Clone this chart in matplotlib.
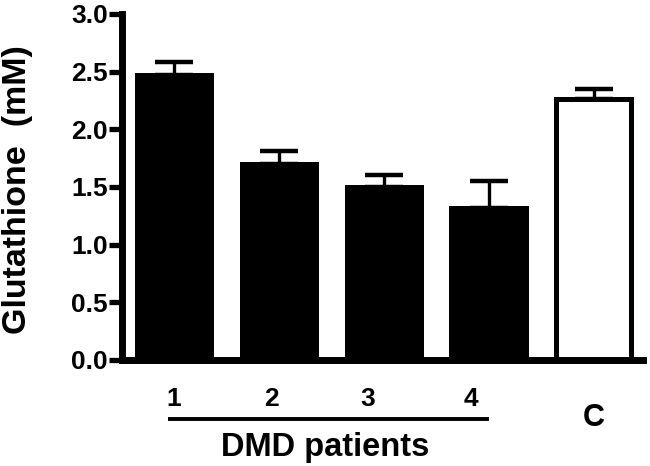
import matplotlib
matplotlib.use('Agg')
import matplotlib.pyplot as plt
import matplotlib.transforms as mtransforms

# 데이터
groups = ['1', '2', '3', '4', 'C']
glutathione = [2.47, 1.70, 1.50, 1.32, 2.26]
sem = [0.11, 0.11, 0.10, 0.23, 0.09]
patient_fill = ['black', 'black', 'black', 'black', 'white']

plt.rcParams['font.family'] = ['Liberation Sans', 'DejaVu Sans']
plt.rcParams['font.weight'] = 'bold'

fig = plt.figure(figsize=(6.5, 4.66), dpi=100)
ax = fig.add_axes([0.187, 0.2275, 0.802, 0.7425])

x = list(range(len(groups)))
ax.bar(x, glutathione, width=0.71, color=patient_fill, edgecolor='black',
       linewidth=3.6, zorder=2)
ax.errorbar(x, glutathione, yerr=[[0] * len(sem), sem], fmt='none',
            ecolor='black', elinewidth=2.4, capsize=13.5, capthick=3.2, zorder=1)

ax.set_xlim(-0.5, 4.47)
ax.set_ylim(0, 3.0)
ax.set_yticks([0, 0.5, 1.0, 1.5, 2.0, 2.5, 3.0])
ax.set_yticklabels([f'{v:.1f}' for v in ax.get_yticks()], fontsize=19, fontweight='bold')
ax.tick_params(axis='y', length=9.5, width=3.8, pad=0.5)
ax.set_xticks([])

for side in ['top', 'right']:
    ax.spines[side].set_visible(False)
for side in ['left', 'bottom']:
    ax.spines[side].set_linewidth(5)

# 그룹 라벨 (막대 아래)
trans = mtransforms.blended_transform_factory(ax.transData, ax.transAxes)
label_x = [0, 0.93, 1.85, 2.83, 4.0]
label_y = [-0.113, -0.113, -0.113, -0.113, -0.168]
label_size = [19, 19, 19, 19, 22]
for lx, ly, g, fs in zip(label_x, label_y, groups, label_size):
    ax.text(lx, ly, g, transform=trans, ha='center', va='center',
            fontsize=fs, fontweight='bold', clip_on=False)

ax.plot([-0.057, 3.0], [-0.171, -0.171], transform=trans, color='black',
        linewidth=2.8, clip_on=False, solid_capstyle='butt')
ax.text(1.44, -0.254, 'DMD patients', transform=trans, ha='center', va='center',
        fontsize=23.5, fontweight='bold', clip_on=False)

fig.text(0.027, 0.594, 'Glutathione  (mM)', rotation=90, ha='center', va='center',
         fontsize=24.5, fontweight='bold')

plt.savefig('out.png', dpi=100)
plt.close()
